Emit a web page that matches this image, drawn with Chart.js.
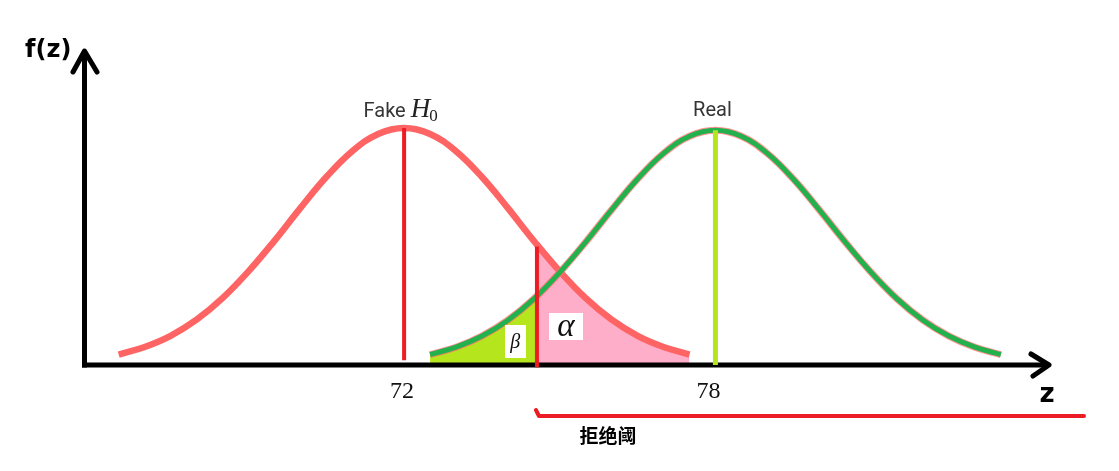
<!DOCTYPE html>
<html>
<head>
<meta charset="utf-8">
<script src="https://cdn.jsdelivr.net/npm/chart.js@4/dist/chart.umd.min.js"></script>
<style>
  html, body { margin: 0; padding: 0; background: #ffffff; }
  #wrap { width: 1119px; height: 471px; position: relative; }
</style>
</head>
<body>
<div id="wrap"><canvas id="c"></canvas></div>
<script>
// ---- data ----
const fakeX = [66.5, 67, 67.5, 68, 68.5, 69, 69.5, 70, 70.5, 71, 71.5, 72, 72.5, 73, 73.5, 74, 74.5, 75, 75.5, 76, 76.5, 77, 77.5];
const fakeY = [0.044, 0.076, 0.123, 0.191, 0.282, 0.395, 0.524, 0.662, 0.793, 0.902, 0.975, 1.0, 0.975, 0.902, 0.793, 0.662, 0.524, 0.395, 0.282, 0.191, 0.123, 0.076, 0.044];
const realX = [72.5, 73, 73.5, 74, 74.5, 75, 75.5, 76, 76.5, 77, 77.5, 78, 78.5, 79, 79.5, 80, 80.5, 81, 81.5, 82, 82.5, 83, 83.5];
const realY = [0.044, 0.075, 0.122, 0.189, 0.279, 0.391, 0.519, 0.655, 0.785, 0.893, 0.965, 0.99, 0.965, 0.893, 0.785, 0.655, 0.519, 0.391, 0.279, 0.189, 0.122, 0.075, 0.044];
const fakeMean = 72;
const realMean = 78;
const threshold = 74.56;
const fakeMarkY = [0.02, 1.0];
const realMarkY = [0.0, 0.99];
const thresholdMarkY = [-0.01, 0.5];
const tickLabels = ['72', '78'];
const tickValues = [72, 78];
const curveLabels = ['Fake', 'Real'];
const errorLabels = ['β', 'α'];
const rejectLabel = '拒绝阈';
const axisLabels = ['f(z)', 'z'];

// ---- colours ----
const RED_CURVE = '#ff6464';
const RED = '#ed1c24';
const GREEN = '#22b14c';
const LIME = '#b5e61d';
const PINK = '#ffaec9';

function pts(xs, ys) { return xs.map((x, i) => ({ x: x, y: ys[i] })); }

function splitGradient(ctx, leftColor, rightColor) {
  const chart = ctx.chart;
  const area = chart.chartArea;
  if (!area) return 'rgba(0,0,0,0)';
  const px = chart.scales.x.getPixelForValue(threshold);
  const f = Math.min(1, Math.max(0, (px - area.left) / (area.right - area.left)));
  const g = chart.ctx.createLinearGradient(area.left, 0, area.right, 0);
  g.addColorStop(0, leftColor);
  g.addColorStop(f, leftColor);
  g.addColorStop(f, rightColor);
  g.addColorStop(1, rightColor);
  return g;
}

const axesPlugin = {
  id: 'axesPlugin',
  beforeDatasetsDraw(chart) {
    const c = chart.ctx;
    const a = chart.chartArea;
    const x0 = a.left, y0 = a.bottom;
    c.save();
    c.strokeStyle = '#000';
    c.lineWidth = 5;
    c.lineCap = 'butt';
    c.lineJoin = 'miter';
    c.beginPath();
    c.moveTo(x0 - 0.5, y0 + 2.5);
    c.lineTo(x0 - 0.5, a.top + 1);
    c.stroke();
    c.beginPath();
    c.moveTo(x0 - 3, y0);
    c.lineTo(a.right + 1, y0);
    c.stroke();
    c.lineCap = 'round';
    c.lineJoin = 'round';
    c.beginPath();
    c.moveTo(x0 - 12, a.top + 20);
    c.lineTo(x0 - 0.5, a.top - 1);
    c.lineTo(x0 + 12, a.top + 20);
    c.stroke();
    c.beginPath();
    c.moveTo(a.right - 16, y0 - 11);
    c.lineTo(a.right + 2, y0);
    c.lineTo(a.right - 14, y0 + 11);
    c.stroke();
    c.restore();
  },
  afterDatasetsDraw(chart) {
    const c = chart.ctx;
    const xs = chart.scales.x, ys = chart.scales.y;
    c.save();
    // tick labels
    c.fillStyle = '#111';
    c.font = '24px "Liberation Serif", serif';
    c.textAlign = 'center';
    c.textBaseline = 'alphabetic';
    const tickOffsets = [-2, -7];
    tickValues.forEach((v, i) => {
      c.fillText(tickLabels[i], xs.getPixelForValue(v) + tickOffsets[i], 398);
    });
    // curve titles
    c.fillStyle = '#353535';
    c.font = '20px Roboto, sans-serif';
    c.textAlign = 'left';
    const fakeW = c.measureText(curveLabels[0] + ' ').width;
    c.font = 'italic 27px "Liberation Serif", serif';
    const hW = c.measureText('H').width;
    c.font = '17px "Liberation Serif", serif';
    const zW = c.measureText('0').width;
    let sx = xs.getPixelForValue(fakeMean) - 3 - (fakeW + hW + zW) / 2;
    c.font = '20px Roboto, sans-serif';
    c.fillText(curveLabels[0] + ' ', sx, 117);
    c.fillStyle = '#222';
    c.font = 'italic 27px "Liberation Serif", serif';
    c.fillText('H', sx + fakeW, 117);
    c.font = '17px "Liberation Serif", serif';
    c.fillText('0', sx + fakeW + hW - 1, 121);
    c.fillStyle = '#353535';
    c.font = '20px Roboto, sans-serif';
    c.textAlign = 'center';
    c.fillText(curveLabels[1], xs.getPixelForValue(realMean) - 3, 116);
    // beta / alpha boxes
    const boxes = [
      { t: errorLabels[0], x: 74.14, y: 0.10, w: 21, h: 33, font: 'italic 20px "Liberation Serif", serif' },
      { t: errorLabels[1], x: 75.12, y: 0.164, w: 34, h: 27, font: 'italic 33px "Liberation Serif", serif' }
    ];
    boxes.forEach(b => {
      const px = xs.getPixelForValue(b.x), py = ys.getPixelForValue(b.y);
      c.fillStyle = '#ffffff';
      c.fillRect(Math.round(px - b.w / 2), Math.round(py - b.h / 2), b.w, b.h);
      c.fillStyle = '#111';
      c.font = b.font;
      c.textAlign = 'center';
      c.textBaseline = 'middle';
      c.fillText(b.t, px, py + 1);
    });
    // axis names
    c.fillStyle = '#000';
    c.textBaseline = 'alphabetic';
    c.font = 'bold 24px "DejaVu Sans", sans-serif';
    c.textAlign = 'left';
    c.fillText(axisLabels[0], 25, 57);
    c.font = 'bold 26px "DejaVu Sans", sans-serif';
    c.textAlign = 'center';
    c.fillText(axisLabels[1], 1047, 402);
    // rejection region line
    const tx = xs.getPixelForValue(threshold);
    c.strokeStyle = RED;
    c.lineWidth = 4;
    c.lineCap = 'round';
    c.lineJoin = 'round';
    c.beginPath();
    c.moveTo(tx - 1, 410);
    c.lineTo(tx + 2, 416);
    c.lineTo(1084, 416);
    c.stroke();
    c.fillStyle = '#000';
    c.font = 'bold 19px "Noto Sans CJK SC", sans-serif';
    c.textAlign = 'center';
    c.textBaseline = 'middle';
    c.fillText(rejectLabel, tx + 71, 436);
    c.restore();
  }
};

new Chart(document.getElementById('c'), {
  type: 'line',
  data: {
    datasets: [
      {
        label: 'threshold',
        data: pts([threshold, threshold], thresholdMarkY),
        borderColor: RED, borderWidth: 4, pointRadius: 0, fill: false,
        borderCapStyle: 'butt', order: 1, clip: false
      },
      {
        label: 'real mean',
        data: pts([realMean, realMean], realMarkY),
        borderColor: LIME, borderWidth: 5, pointRadius: 0, fill: false,
        borderCapStyle: 'butt', order: 2, clip: false
      },
      {
        label: 'fake mean',
        data: pts([fakeMean, fakeMean], fakeMarkY),
        borderColor: RED, borderWidth: 4, pointRadius: 0, fill: false,
        borderCapStyle: 'butt', order: 3, clip: false
      },
      {
        label: 'Real',
        data: pts(realX, realY),
        borderColor: GREEN, borderWidth: 5, pointRadius: 0, tension: 0.4,
        fill: false, borderCapStyle: 'butt', order: 4, clip: false
      },
      {
        label: 'Real outline',
        data: pts(realX, realY),
        borderColor: 'rgba(255,110,110,0.75)', borderWidth: 7, pointRadius: 0, tension: 0.4,
        fill: 'origin',
        backgroundColor: ctx => splitGradient(ctx, LIME, 'rgba(255,255,255,0)'),
        borderCapStyle: 'butt', order: 5, clip: false
      },
      {
        label: 'Fake',
        data: pts(fakeX, fakeY),
        borderColor: RED_CURVE, borderWidth: 6.5, pointRadius: 0, tension: 0.4,
        fill: 'origin',
        backgroundColor: ctx => splitGradient(ctx, 'rgba(255,255,255,0)', PINK),
        borderCapStyle: 'butt', order: 6, clip: false
      }
    ]
  },
  options: {
    responsive: true,
    maintainAspectRatio: false,
    animation: false,
    layout: { padding: { left: 85, right: 72, top: 52, bottom: 106 } },
    scales: {
      x: { type: 'linear', min: 65.85, max: 84.39, display: false },
      y: { type: 'linear', min: 0, max: 1.3207, display: false }
    },
    plugins: {
      legend: { display: false },
      tooltip: { enabled: false },
      filler: { drawTime: 'beforeDatasetsDraw' }
    }
  },
  plugins: [axesPlugin]
});
</script>
</body>
</html>
